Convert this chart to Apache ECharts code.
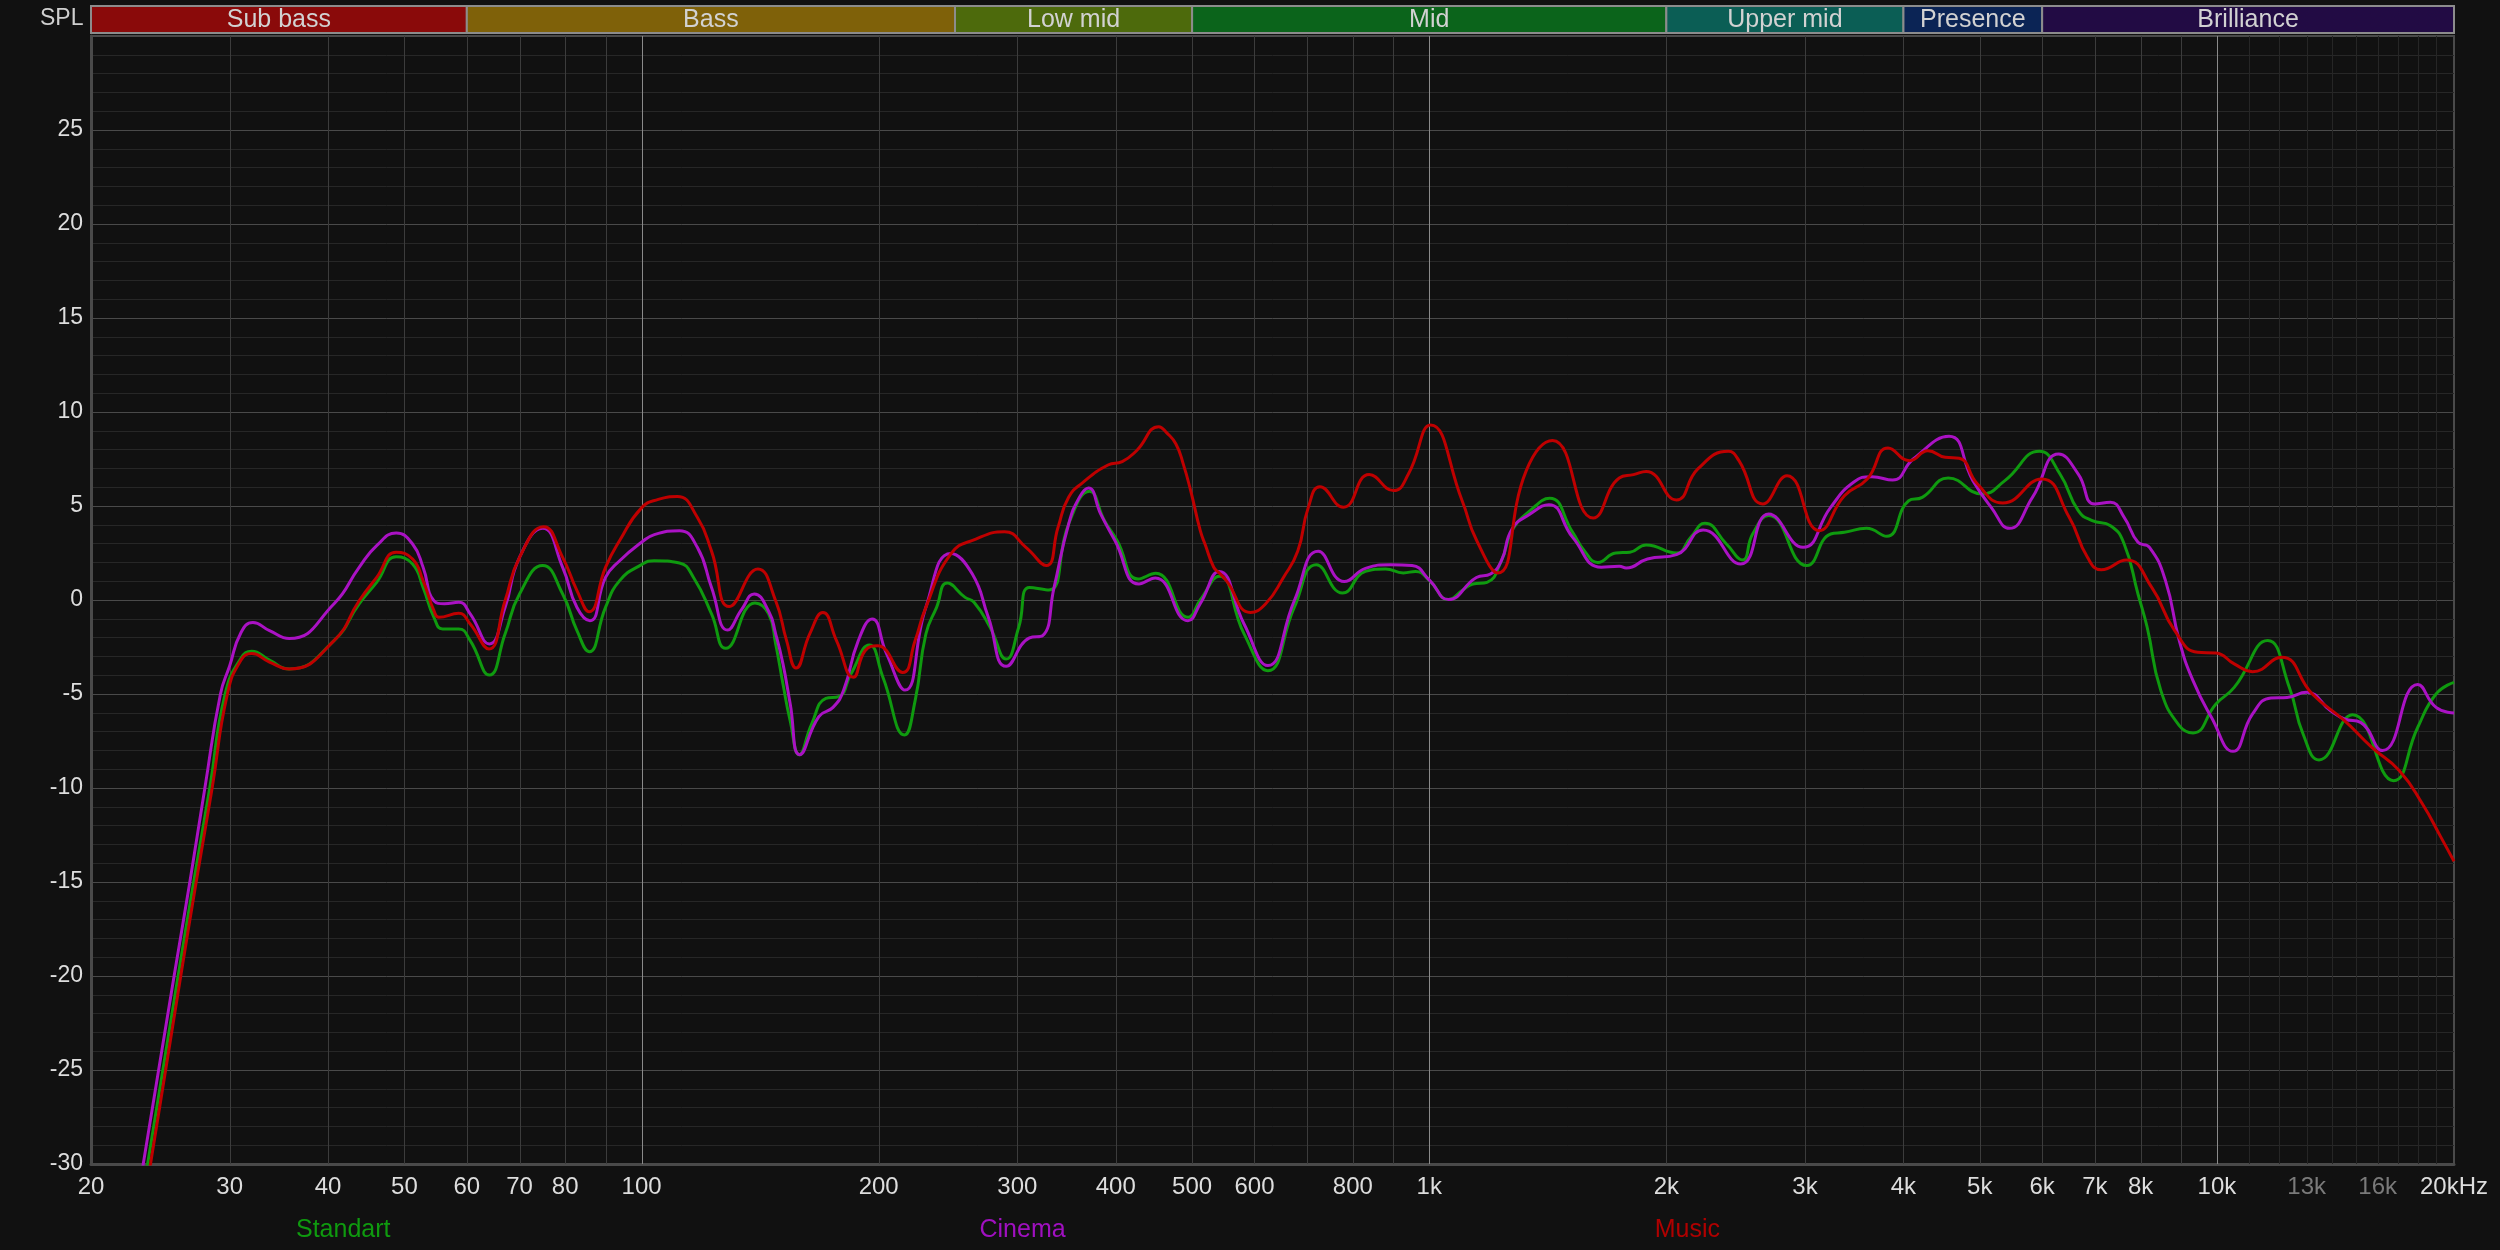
<!DOCTYPE html>
<html><head><meta charset="utf-8">
<script src="https://cdn.jsdelivr.net/npm/echarts@6/dist/echarts.min.js"></script>
<style>html,body{margin:0;padding:0;background:#111111;}#c{width:2500px;height:1250px;}</style>
</head><body><div id="c"></div>
<script>
// ---------- DATA ----------
const seriesNames = ['Standart', 'Cinema', 'Music'];

const standart = [[20,-48.4],[23.6,-30],[25.8,-20],[27.0,-15],[28.3,-10],[29.6,-5],[31,-3.1],[32,-2.73],[33.7,-3.2],[35.7,-3.67],[40.7,-2.16],[43.8,-0.2],[46.1,0.94],[48.8,2.3],[51.2,1.91],[52.8,0.67],[54.5,-0.92],[55.9,-1.54],[58.6,-1.54],[60.6,-2.16],[64.1,-3.99],[67.1,-1.81],[70,0.32],[74.9,1.83],[79.4,0.32],[82.8,-1.63],[85.8,-2.75],[90,-0.39],[93.8,1.03],[100,1.88],[103.8,2.09],[111.7,1.97],[116.4,1.2],[122.7,-0.74],[127.9,-2.57],[139.3,-0.16],[145,-0.74],[148,-2.34],[151.2,-4.47],[154.4,-6.42],[158.6,-8.23],[164.4,-6.6],[171.4,-5.23],[178,-5.14],[184.4,-3.94],[194.6,-2.39],[202.5,-4.11],[215.7,-7.18],[222.5,-5.35],[229.6,-1.81],[236.9,-0.39],[244.4,0.9],[257.5,0.14],[264.3,-0.12],[277,-1.45],[290.4,-3.14],[301.2,-1.45],[310.8,0.67],[329,0.53],[348.5,4.04],[370.5,5.78],[387,4.22],[401.5,3.16],[427,1.12],[449.6,1.42],[494.6,-0.92],[512,0.0],[541,1.26],[582,-1.8],[624,-3.76],[674,-0.39],[719,1.88],[776,0.37],[830,1.52],[880,1.65],[927,1.44],[961,1.52],[1002,1.0],[1058,0.02],[1101,0.5],[1136,0.85],[1184,0.94],[1235,2.09],[1274,3.69],[1343,4.75],[1422,5.41],[1521,3.6],[1575,2.6],[1637,2.0],[1725,2.5],[1798,2.54],[1885,2.93],[2060,2.5],[2148,3.33],[2239,4.08],[2384,2.98],[2499,2.13],[2574,3.51],[2698,4.49],[3015,1.83],[3233,3.51],[3366,3.6],[3590,3.81],[3808,3.39],[4062,5.28],[4226,5.46],[4560,6.49],[5033,5.64],[5381,6.35],[5950,7.91],[6321,6.7],[6668,4.75],[6945,4.22],[7327,3.95],[7626,2.98],[7940,0.32],[8156,-1.45],[8489,-4.82],[8959,-6.68],[9326,-7.07],[9973,-5.53],[10520,-4.65],[11600,-2.16],[12360,-4.65],[12865,-7.13],[13480,-8.51],[14870,-6.1],[16760,-9.61],[17990,-6.77],[18980,-5.0],[20000,-4.38]];

const cinema = [[20,-47],[23.3,-30],[25.5,-20],[26.7,-15],[27.9,-10],[29.2,-5],[30,-3.5],[31,-1.74],[32.1,-1.2],[33.7,-1.63],[35.7,-2.05],[40.7,-0.2],[43.8,1.74],[46.1,2.89],[48.8,3.56],[51.2,2.98],[52.8,1.74],[54.5,-0.04],[56.2,-0.2],[58.6,-0.12],[60.6,-0.74],[64.1,-2.34],[67.1,-0.4],[70,2.27],[74.9,3.81],[79.4,1.74],[82.8,-0.4],[86,-1.1],[90,1.2],[93.8,2.09],[100,3.07],[103.8,3.48],[111.7,3.69],[117.7,2.8],[122.7,0.67],[128.6,-1.6],[134,-0.5],[139,0.32],[145,-0.6],[148,-1.8],[151.2,-3.4],[154.4,-5.5],[158.8,-8.23],[167.9,-6.2],[175,-5.71],[180.5,-4.8],[188.3,-2.2],[196.2,-1.01],[204.7,-2.87],[216,-4.79],[229.6,-0.39],[247,2.48],[263,1.38],[275.6,-0.92],[290.4,-3.53],[310.8,-2.02],[323,-1.9],[334,0.67],[348.5,4.04],[359.6,5.46],[369.3,5.96],[382.8,4.57],[399,3.16],[428,0.85],[449,1.17],[494,-1.1],[512,-0.2],[541,1.52],[582,-1.28],[624,-3.49],[674,-0.04],[723,2.59],[780,0.98],[830,1.68],[893,1.88],[951,1.83],[1002,1.03],[1058,0.02],[1148,1.2],[1196,1.38],[1235,2.09],[1274,3.78],[1343,4.57],[1419,5.07],[1521,3.33],[1654,1.74],[1743,1.79],[1779,1.7],[1893,2.18],[2060,2.41],[2227,3.72],[2486,1.91],[2698,4.57],[2983,2.8],[3233,4.93],[3457,6.26],[3648,6.56],[3876,6.38],[4116,7.5],[4570,8.71],[4900,6.35],[5170,4.93],[5453,3.81],[5832,5.46],[6296,7.77],[6668,6.7],[6992,5.11],[7327,5.2],[7626,4.4],[7940,3.07],[8212,2.8],[8605,1.03],[8959,-2.16],[9326,-4.29],[9841,-6.24],[10480,-8.05],[11100,-6.06],[11710,-5.21],[12280,-5.18],[12990,-4.91],[13946,-5.89],[14520,-6.33],[15220,-6.51],[16230,-8.01],[17990,-4.5],[18980,-5.71],[20000,-6.01]];

const music = [[20,-49.4],[23.8,-30],[26.0,-20],[27.2,-15],[28.5,-10],[29.8,-5],[31,-3.2],[32,-2.85],[33.7,-3.3],[35.7,-3.67],[40.7,-2.16],[43.8,-0.04],[46.1,1.2],[48.8,2.54],[51.2,2.18],[52.8,1.03],[54.5,-0.57],[55.3,-0.92],[58.6,-0.71],[60.6,-1.28],[64,-2.6],[67.1,-0.04],[70,2.27],[75.1,3.9],[79.4,2.27],[82.8,0.5],[85.8,-0.62],[90,1.74],[93.8,3.16],[100,4.9],[105,5.35],[111,5.5],[117.7,4.4],[122.7,2.6],[129.3,-0.35],[140.5,1.65],[148,-0.04],[152.8,-2.16],[157.1,-3.62],[163.5,-1.8],[169.9,-0.67],[176.8,-2.16],[185.7,-4.11],[192.2,-2.7],[199.3,-2.43],[214.5,-3.85],[222.5,-2.16],[229.6,-0.39],[247,2.45],[265.7,3.24],[288.9,3.63],[307.6,2.8],[326.5,1.83],[337.9,3.87],[348.5,5.46],[363.5,6.26],[391,7.18],[407.6,7.36],[425,7.94],[453.6,9.22],[464,8.9],[476.9,8.3],[487.5,7.2],[498,5.8],[512,3.7],[520,2.9],[532.6,1.74],[541,1.45],[552.6,1.03],[593,-0.66],[620,-0.2],[653,1.2],[681,2.6],[702,4.9],[726.6,6.03],[778,4.93],[839,6.67],[901,5.82],[941,6.7],[1004,9.31],[1101,5.28],[1148,3.19],[1222,1.44],[1328,6.88],[1434,8.48],[1615,4.36],[1743,6.49],[1817,6.67],[1885,6.84],[2060,5.32],[2193,6.97],[2397,7.91],[2473,7.41],[2651,5.11],[2846,6.61],[3126,3.69],[3366,5.55],[3599,6.44],[3824,8.09],[4073,7.41],[4297,7.94],[4520,7.59],[4708,7.54],[4966,6.17],[5346,5.16],[5990,6.44],[6494,4.4],[6850,2.27],[7131,1.61],[7678,2.13],[8266,0.67],[8840,-1.63],[9452,-2.78],[9973,-2.82],[10520,-3.4],[11100,-3.81],[12080,-3.05],[13215,-5.0],[14520,-6.42],[15730,-7.84],[17050,-9.08],[18240,-10.85],[19240,-12.6],[20000,-13.9]];

const bandNames = ['Sub bass', 'Bass', 'Low mid', 'Mid', 'Upper mid', 'Presence', 'Brilliance'];
const bandEdges = [20, 60, 250, 500, 2000, 4000, 6000, 20000];

const tickValues = [20,30,40,50,60,70,80,100,200,300,400,500,600,800,1000,2000,3000,4000,5000,6000,7000,8000,10000,13000,16000,20000];
const tickLabels = ['20','30','40','50','60','70','80','100','200','300','400','500','600','800','1k','2k','3k','4k','5k','6k','7k','8k','10k','13k','16k','20kHz'];
const dimTickLabels = ['13k', '16k'];

const gridRegular = [30,40,50,60,70,80,90,200,300,400,500,600,700,800,900,2000,3000,4000,5000,6000,7000,8000,9000];
const gridMajor = [100,1000,10000];
const gridFine = [11000,12000,13000,14000,15000,16000,17000,18000,19000];

// ---------- STYLE ----------
const FONT = '"Liberation Sans", Arial, sans-serif';
const lineColors = ['#0f9a0f', '#aa12c4', '#bf0000'];
const legendColors = ['#0f9a0f', '#a010c0', '#b00000'];
const bandColors = ['#8a0a0a', '#7f6109', '#4d6a0c', '#0b641b', '#0b5e55', '#0b2455', '#220b44'];
const gridColors = ['#3c3c3c', '#8a8a8a', '#262626'];

const gridData = []
  .concat(gridRegular.map(f => [f, 0, 0]))
  .concat(gridFine.map(f => [f, 0, 2]))
  .concat(gridMajor.map(f => [f, 0, 1]));

const bandData = bandNames.map((n, i) => [bandEdges[i], bandEdges[i + 1], 0.5, i]);

const chart = echarts.init(document.getElementById('c'), null, {renderer: 'canvas'});

const option = {
  backgroundColor: '#111111',
  animation: false,
  title: {
    text: 'SPL', left: 35, top: 2,
    textStyle: {color: '#cfcfcf', fontSize: 23, fontWeight: 'normal', fontFamily: FONT}
  },
  legend: {
    left: 286, top: 1213, itemGap: 584, itemWidth: 0, itemHeight: 0,
    selectedMode: false,
    textStyle: {fontSize: 25, fontFamily: FONT},
    data: seriesNames.map((n, i) => ({name: n, icon: 'rect', textStyle: {color: legendColors[i]}}))
  },
  grid: [
    {left: 91, right: 46, top: 36, bottom: 86, show: true, backgroundColor: '#111111', borderColor: '#4a4a4a', borderWidth: 2},
    {left: 91, right: 46, top: 6, height: 27, show: false}
  ],
  xAxis: [
    {
      type: 'log', logBase: 10, min: 20, max: 20000, gridIndex: 0,
      axisLine: {show: true, onZero: false, lineStyle: {color: '#4a4a4a', width: 3}},
      axisTick: {show: false},
      splitLine: {show: false},
      axisLabel: {
        customValues: tickValues,
        margin: 11,
        fontSize: 24, fontFamily: FONT,
        color: function (v) {
          const i = tickValues.indexOf(Math.round(v));
          return (i >= 0 && dimTickLabels.indexOf(tickLabels[i]) >= 0) ? '#7a7a7a' : '#dddddd';
        },
        formatter: function (v) {
          const i = tickValues.indexOf(Math.round(v));
          return i >= 0 ? tickLabels[i] : '';
        }
      }
    },
    {type: 'log', logBase: 10, min: 20, max: 20000, gridIndex: 1, show: false}
  ],
  yAxis: [
    {
      type: 'value', min: -30, max: 30, interval: 5, gridIndex: 0,
      axisLine: {show: true, onZero: false, lineStyle: {color: '#4a4a4a', width: 3}},
      axisTick: {show: false},
      axisLabel: {
        color: '#dddddd', fontSize: 23, fontFamily: FONT, margin: 8,
        formatter: v => (v === 30 ? '' : String(v))
      },
      splitLine: {show: true, lineStyle: {color: '#4a4a4a', width: 1}},
      minorTick: {show: false, splitNumber: 5},
      minorSplitLine: {show: true, lineStyle: {color: '#272727', width: 1}}
    },
    {type: 'value', min: 0, max: 1, gridIndex: 1, show: false}
  ],
  series: [
    {
      name: 'vgrid', type: 'custom', xAxisIndex: 0, yAxisIndex: 0, z: 1, silent: true,
      encode: {x: 0, y: 1},
      data: gridData,
      renderItem: function (params, api) {
        const f = api.value(0), kind = api.value(2);
        const a = api.coord([f, 30]), b = api.coord([f, -30]);
        const x = Math.round(a[0]) + 0.5;
        return {type: 'line', shape: {x1: x, y1: a[1], x2: x, y2: b[1]},
                style: {stroke: gridColors[kind], lineWidth: 1}};
      }
    },
    {
      name: 'bands', type: 'custom', xAxisIndex: 1, yAxisIndex: 1, silent: true,
      encode: {x: [0, 1], y: 2},
      data: bandData,
      renderItem: function (params, api) {
        const i = api.value(3);
        const a = api.coord([api.value(0), 1]);
        const b = api.coord([api.value(1), 0]);
        return {
          type: 'group',
          children: [
            {type: 'rect', shape: {x: a[0], y: a[1], width: b[0] - a[0], height: b[1] - a[1]},
             style: {fill: bandColors[i], stroke: '#8c8c8c', lineWidth: 2}},
            {type: 'text', style: {text: bandNames[i], x: (a[0] + b[0]) / 2, y: (a[1] + b[1]) / 2 + 1,
             align: 'center', verticalAlign: 'middle', fill: '#d2d2d2', fontSize: 25, fontFamily: FONT}}
          ]
        };
      }
    }
  ].concat([standart, cinema, music].map((d, i) => ({
    name: seriesNames[i], type: 'line', xAxisIndex: 0, yAxisIndex: 0, z: 3,
    data: d, showSymbol: false, smooth: 0.5, clip: true,
    lineStyle: {color: lineColors[i], width: 3}, itemStyle: {color: lineColors[i]}
  })))
};

chart.setOption(option);
</script>
</body></html>
